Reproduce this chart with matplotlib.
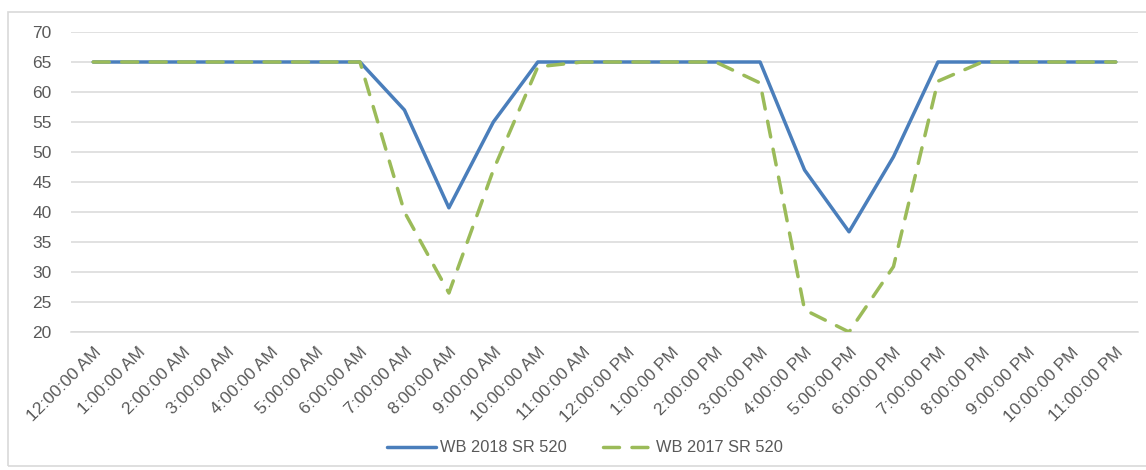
import matplotlib
matplotlib.use("Agg")
import matplotlib.pyplot as plt
from matplotlib.patches import Rectangle

plt.rcParams['font.family'] = ['Liberation Sans', 'DejaVu Sans']

hours = ["12:00:00 AM", "1:00:00 AM", "2:00:00 AM", "3:00:00 AM", "4:00:00 AM", "5:00:00 AM",
         "6:00:00 AM", "7:00:00 AM", "8:00:00 AM", "9:00:00 AM", "10:00:00 AM", "11:00:00 AM",
         "12:00:00 PM", "1:00:00 PM", "2:00:00 PM", "3:00:00 PM", "4:00:00 PM", "5:00:00 PM",
         "6:00:00 PM", "7:00:00 PM", "8:00:00 PM", "9:00:00 PM", "10:00:00 PM", "11:00:00 PM"]
wb2018 = [65, 65, 65, 65, 65, 65, 65, 57, 40.7, 55, 65, 65, 65, 65, 65, 65, 47, 36.7, 49.2, 65, 65, 65, 65, 65]
wb2017 = [65, 65, 65, 65, 65, 65, 65, 40, 26.5, 47, 64.2, 65, 65, 65, 65, 61.5, 23.7, 20, 30.9, 61.8, 65, 65, 65, 65]
yticks = [20, 25, 30, 35, 40, 45, 50, 55, 60, 65, 70]

W, H = 1146, 470
fig = plt.figure(figsize=(W / 100, H / 100), dpi=100)
fig.patches.append(Rectangle((8 / W, 1 - 466 / H), (W + 10 - 8) / W, (466 - 12) / H,
                             transform=fig.transFigure, fill=False, edgecolor='#D9D9D9', linewidth=1.2))

ax = fig.add_axes([71 / W, 1 - 332 / H, (1138 - 71) / W, 300 / H])
x = list(range(len(hours)))
ax.plot(x, wb2018, color='#4A7EBB', linewidth=2.5, label='WB 2018 SR 520', solid_capstyle='round', zorder=3)
ax.plot(x, wb2017, color='#9BBB59', linewidth=2.5, linestyle=(0, (4.6, 3.6)), dash_capstyle='round',
        label='WB 2017 SR 520', zorder=4)

ax.set_xlim(-0.5, len(hours) - 0.5)
ax.set_ylim(20, 70)
ax.set_yticks(yticks)
ax.set_xticks(x)
ax.set_xticklabels(hours, rotation=45, ha='right', rotation_mode='anchor')
ax.grid(axis='y', color='#D9D9D9', linewidth=1.1)
ax.set_axisbelow(True)
for s in ['left', 'right', 'top']:
    ax.spines[s].set_visible(False)
ax.spines['bottom'].set_color('#D9D9D9')
ax.spines['bottom'].set_linewidth(1.1)
ax.tick_params(axis='both', length=0, labelsize=12.5, labelcolor='#595959')
ax.tick_params(axis='y', pad=14)
ax.tick_params(axis='x', pad=9)

leg = fig.legend(loc='center', bbox_to_anchor=(585 / W, 1 - 448 / H), ncol=2, frameon=False,
                 fontsize=11.8, handlelength=3.0, columnspacing=2.2, handletextpad=0.25)
for t in leg.get_texts():
    t.set_color('#595959')

fig.savefig('out.png', dpi=100)
